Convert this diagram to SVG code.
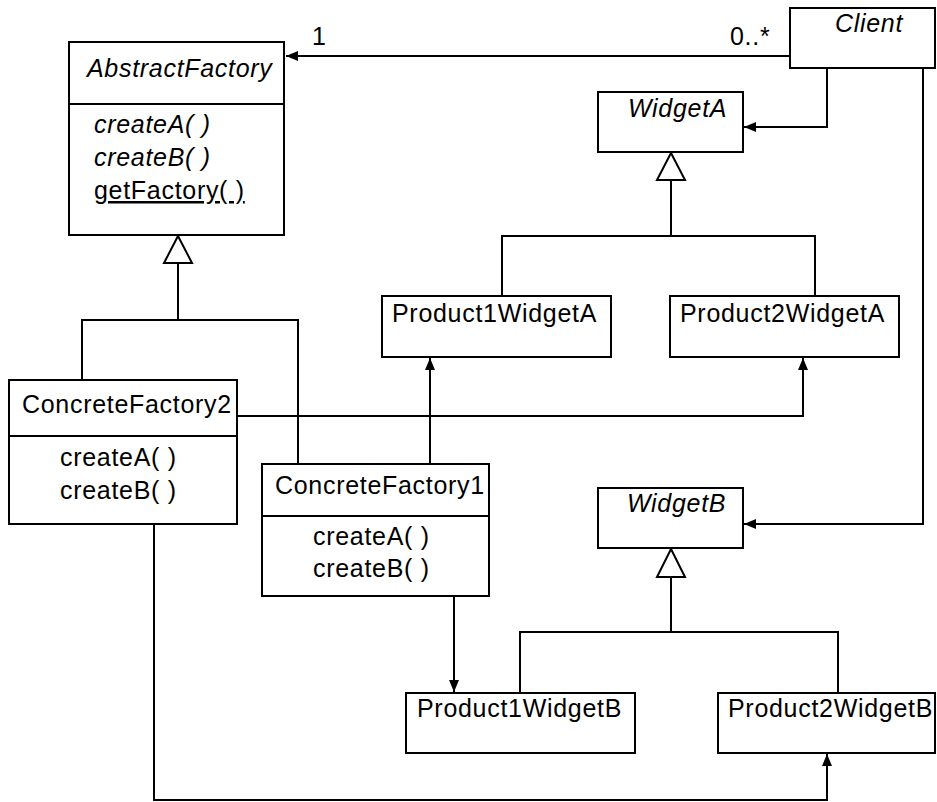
<svg xmlns="http://www.w3.org/2000/svg" width="937" height="802" viewBox="0 0 937 802">
  <style>
    .box { fill: #ffffff; stroke: #000000; stroke-width: 2; }
    .sep { stroke: #000000; stroke-width: 2; }
    .txt { font-family: "Liberation Sans", Arial, sans-serif; font-size: 25px; letter-spacing: 0.7px; fill: #000000; }
    .it { font-style: italic; }
    .line { fill: none; stroke: #000000; stroke-width: 2; }
    .arrow { marker-end: url(#filled); }
    .gen { fill: #ffffff; stroke: #000000; stroke-width: 2; }
  </style>
  <defs>
    <marker id="filled" markerUnits="userSpaceOnUse" markerWidth="14" markerHeight="12" refX="12" refY="5" orient="auto">
      <path d="M0,0 L12,5 L0,10 z" fill="#000000"/>
    </marker>
  </defs>
  <rect width="937" height="802" fill="#ffffff"/>

  <!-- connectors -->
  <g id="connectors">
    <!-- Client to AbstractFactory association -->
    <line class="line arrow" x1="790" y1="56" x2="286" y2="56"/>
    <!-- Client uses WidgetA / WidgetB -->
    <polyline class="line arrow" points="827,68 827,127 744,127"/>
    <polyline class="line arrow" points="923,68 923,524 744,524"/>
    <!-- generalization: AbstractFactory -->
    <polyline class="line" points="82,380 82,320 298,320 298,464"/>
    <line class="line" x1="178" y1="320" x2="178" y2="263"/>
    <polygon class="gen" points="178,236 192,263 164,263"/>
    <!-- generalization: WidgetA -->
    <polyline class="line" points="502,296 502,236 815,236 815,296"/>
    <line class="line" x1="671" y1="236" x2="671" y2="180"/>
    <polygon class="gen" points="671,153 685,180 657,180"/>
    <!-- generalization: WidgetB -->
    <polyline class="line" points="520,693 520,632 838,632 838,693"/>
    <line class="line" x1="671" y1="632" x2="671" y2="577"/>
    <polygon class="gen" points="671,549 685,577 657,577"/>
    <!-- factories create products -->
    <polyline class="line arrow" points="237,416 803,416 803,358"/>
    <line class="line arrow" x1="430" y1="464" x2="430" y2="358"/>
    <line class="line arrow" x1="454" y1="596" x2="454" y2="692"/>
    <polyline class="line arrow" points="154,524 154,800 827,800 827,754"/>
    <!-- multiplicities -->
    <text class="txt" x="312" y="45">1</text>
    <text class="txt" x="730" y="45">0..*</text>
  </g>

  <g id="AbstractFactory">
    <rect class="box" x="69" y="42" width="215" height="193"/>
    <line class="sep" x1="69" y1="104" x2="284" y2="104"/>
    <text class="txt it" x="87" y="77">AbstractFactory</text>
    <text class="txt it" x="94" y="133">createA( )</text>
    <text class="txt it" x="94" y="166">createB( )</text>
    <text class="txt" x="94" y="199" text-decoration="underline">getFactory( )</text>
  </g>

  <g id="Client">
    <rect class="box" x="790" y="8" width="145" height="60"/>
    <text class="txt it" x="835" y="32">Client</text>
  </g>

  <g id="WidgetA">
    <rect class="box" x="598" y="92" width="145" height="60"/>
    <text class="txt it" x="628" y="117">WidgetA</text>
  </g>

  <g id="Product1WidgetA">
    <rect class="box" x="382" y="296" width="229" height="61"/>
    <text class="txt" x="392" y="322">Product1WidgetA</text>
  </g>

  <g id="Product2WidgetA">
    <rect class="box" x="670" y="296" width="229" height="61"/>
    <text class="txt" x="680" y="322">Product2WidgetA</text>
  </g>

  <g id="ConcreteFactory2">
    <rect class="box" x="9" y="380" width="228" height="144"/>
    <line class="sep" x1="9" y1="436" x2="237" y2="436"/>
    <text class="txt" x="22" y="413">ConcreteFactory2</text>
    <text class="txt" x="60" y="466">createA( )</text>
    <text class="txt" x="60" y="499">createB( )</text>
  </g>

  <g id="ConcreteFactory1">
    <rect class="box" x="262" y="464" width="227" height="132"/>
    <line class="sep" x1="262" y1="516" x2="489" y2="516"/>
    <text class="txt" x="275" y="494">ConcreteFactory1</text>
    <text class="txt" x="313" y="545">createA( )</text>
    <text class="txt" x="313" y="577">createB( )</text>
  </g>

  <g id="WidgetB">
    <rect class="box" x="598" y="488" width="145" height="60"/>
    <text class="txt it" x="627" y="512">WidgetB</text>
  </g>

  <g id="Product1WidgetB">
    <rect class="box" x="406" y="693" width="229" height="60"/>
    <text class="txt" x="417" y="717">Product1WidgetB</text>
  </g>

  <g id="Product2WidgetB">
    <rect class="box" x="718" y="693" width="217" height="60"/>
    <text class="txt" x="728" y="717">Product2WidgetB</text>
  </g>
</svg>
